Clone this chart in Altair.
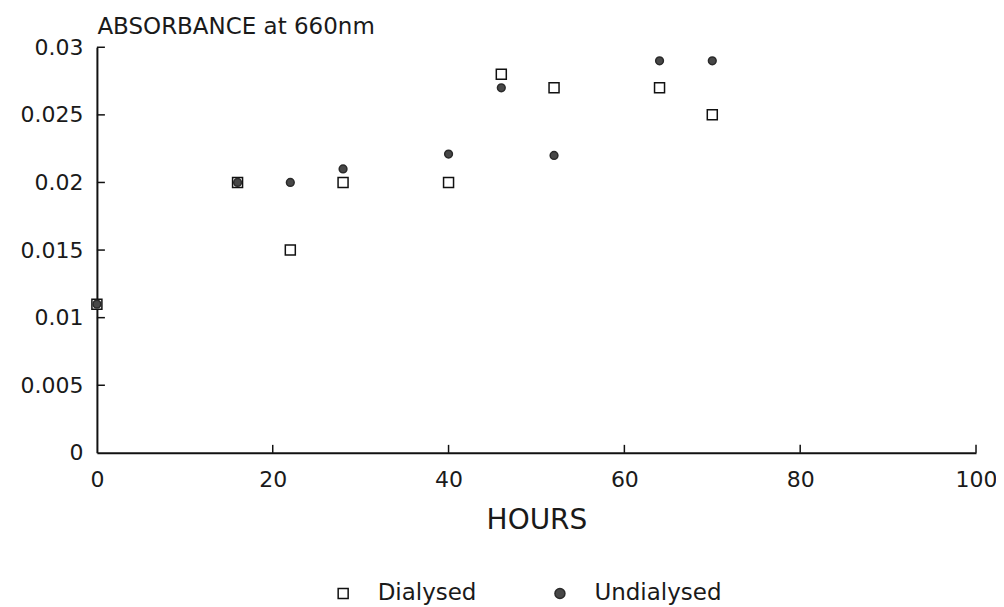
import altair as alt
import pandas as pd

# ---- data ----
hours = [0, 16, 22, 28, 40, 46, 52, 64, 70]
dialysed = [0.011, 0.020, 0.015, 0.020, 0.020, 0.028, 0.027, 0.027, 0.025]
undialysed = [0.011, 0.020, 0.020, 0.021, 0.0221, 0.027, 0.022, 0.029, 0.029]
series_names = ["Dialysed", "Undialysed"]

x_ticks = [0, 20, 40, 60, 80, 100]
y_ticks = [0, 0.005, 0.01, 0.015, 0.02, 0.025, 0.03]

df_d = pd.DataFrame({"hours": hours, "abs": dialysed, "series": series_names[0]})
df_u = pd.DataFrame({"hours": hours, "abs": undialysed, "series": series_names[1]})

xt = pd.DataFrame({"hours": x_ticks[1:]})
yt = pd.DataFrame({"abs": y_ticks[1:]})

W, H = 880, 406
FONT = "DejaVu Sans"
INK = "#1a1a1a"

xscale = alt.Scale(domain=[0, 100], nice=False, zero=True)
yscale = alt.Scale(domain=[0, 0.03], nice=False, zero=True)

xaxis = alt.Axis(
    title="HOURS", values=x_ticks, ticks=False, grid=False,
    labelFontSize=22, labelFont=FONT, labelColor=INK, labelPadding=17,
    labelFlush=False,
    domainColor="#111", domainWidth=2,
    titleFontSize=28, titleFont=FONT, titleFontWeight="normal", titleColor=INK,
    titleX=W / 2, titleY=76, titleAlign="center", titleBaseline="alphabetic",
)
yaxis = alt.Axis(
    title="ABSORBANCE at 660nm", values=y_ticks, format="~g", ticks=False, grid=False,
    labelFontSize=22, labelFont=FONT, labelColor=INK, labelPadding=14,
    labelFlush=False,
    domainColor="#111", domainWidth=2,
    titleFontSize=23, titleFont=FONT, titleFontWeight="normal", titleColor=INK,
    titleAngle=0, titleX=0, titleY=-14, titleAlign="left", titleBaseline="alphabetic",
)

leg = alt.Legend(
    title=None, orient="none", direction="horizontal",
    legendX=235, legendY=535, labelOffset=23, columnPadding=72,
    labelFontSize=23, labelFont=FONT, labelColor=INK,
    symbolSize=100, symbolStrokeWidth=1.5,
)

shape_scale = alt.Scale(domain=series_names, range=["square", "circle"])
fill_scale = alt.Scale(domain=series_names, range=["white", "#474747"])
stroke_scale = alt.Scale(domain=series_names, range=["#111111", "#2a2a2a"])


def pts(data, size):
    return alt.Chart(data).mark_point(opacity=1, fillOpacity=1, strokeWidth=1.5, size=size).encode(
        x=alt.X("hours:Q", scale=xscale, axis=xaxis),
        y=alt.Y("abs:Q", scale=yscale, axis=yaxis),
        shape=alt.Shape("series:N", scale=shape_scale, legend=leg),
        fill=alt.Fill("series:N", scale=fill_scale, legend=leg),
        stroke=alt.Stroke("series:N", scale=stroke_scale, legend=leg),
    )


xtick_layer = alt.Chart(xt).mark_rule(color="#111", strokeWidth=1.5).encode(
    x=alt.X("hours:Q", scale=xscale, axis=xaxis),
    y=alt.value(H),
    y2=alt.value(H - 8),
)
ytick_layer = alt.Chart(yt).mark_rule(color="#111", strokeWidth=1.5).encode(
    y=alt.Y("abs:Q", scale=yscale, axis=yaxis),
    x=alt.value(0),
    x2=alt.value(8),
)

chart = alt.layer(pts(df_d, 100), pts(df_u, 60), xtick_layer, ytick_layer).properties(
    width=W, height=H,
    autosize=alt.AutoSizeParams(type="none"),
    padding={"left": 89, "top": 39, "right": 20, "bottom": 158},
    background="white",
).configure_view(stroke=None)

chart.save("out.html", embed_options={"renderer": "svg", "actions": False})
